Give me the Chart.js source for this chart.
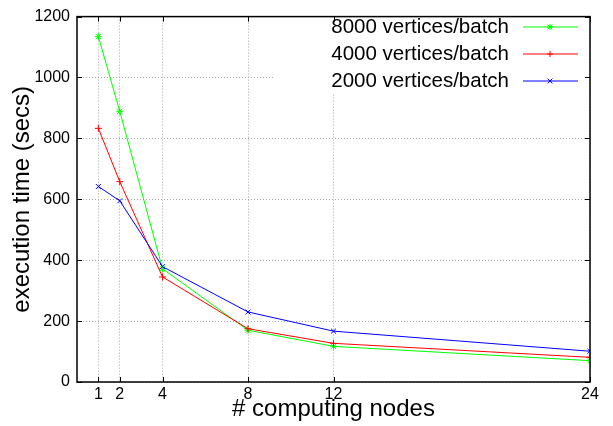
<!DOCTYPE html>
<html>
<head>
<meta charset="utf-8">
<script src="https://cdn.jsdelivr.net/npm/chart.js@4.4.1/dist/chart.umd.min.js"></script>
<style>
html, body { margin: 0; padding: 0; background: #fff; }
</style>
</head>
<body>
<canvas id="myChart" width="613" height="426"></canvas>
<script>
// values
var nodes = [1, 2, 4, 8, 12, 24];
var batch8000 = [1134, 889, 372, 170, 117, 70];
var batch4000 = [833, 658, 345, 175, 127, 81];
var batch2000 = [642, 595, 379, 230, 167, 101];
var xTicks = [1, 2, 4, 8, 12, 24];
var yTicks = [0, 200, 400, 600, 800, 1000, 1200];
var names = ['8000 vertices/batch', '4000 vertices/batch', '2000 vertices/batch'];
var colors = ['#00ff00', '#ff0000', '#0000ff'];
var styles = ['star', 'cross', 'crossRot'];

var FONT = '"Liberation Sans", Arial, Helvetica, sans-serif';

function pairs(values) {
    return nodes.map(function (n, i) { return { x: n, y: values[i] }; });
}

function marker(ctx, style, x, y, r) {
    ctx.beginPath();
    if (style == 'cross' || style == 'star') {
        ctx.moveTo(x - r, y); ctx.lineTo(x + r, y);
        ctx.moveTo(x, y - r); ctx.lineTo(x, y + r);
    }
    if (style == 'crossRot' || style == 'star') {
        var d = r * 0.8;
        ctx.moveTo(x - d, y - d); ctx.lineTo(x + d, y + d);
        ctx.moveTo(x - d, y + d); ctx.lineTo(x + d, y - d);
    }
    ctx.stroke();
}

// gnuplot-ish frame, inward ticks and key box
var gnuFrame = {
    id: 'gnuFrame',
    beforeDatasetsDraw: function (chart) {
        var ctx = chart.ctx, a = chart.chartArea;
        ctx.save();
        ctx.fillStyle = '#fff';
        ctx.fillRect(273, a.top + 1, a.right - 273 - 1, 93 - a.top);
        ctx.font = '20.5px ' + FONT;
        ctx.textAlign = 'right';
        ctx.textBaseline = 'middle';
        for (var i = 0; i < names.length; i++) {
            var y = 27 + i * 27;
            ctx.fillStyle = '#000';
            ctx.fillText(names[i], 509, y);
            ctx.strokeStyle = colors[i];
            ctx.lineWidth = 1;
            ctx.beginPath();
            ctx.moveTo(523, y);
            ctx.lineTo(578, y);
            ctx.stroke();
            marker(ctx, styles[i], 550, y, 3);
        }
        ctx.restore();
    },
    afterDraw: function (chart) {
        var ctx = chart.ctx, a = chart.chartArea;
        var xs = chart.scales.x, ys = chart.scales.y;
        ctx.save();
        ctx.strokeStyle = '#000';
        ctx.lineWidth = 1;
        ctx.beginPath();
        xTicks.forEach(function (v) {
            var px = Math.round(xs.getPixelForValue(v)) + 0.5;
            ctx.moveTo(px, a.bottom); ctx.lineTo(px, a.bottom - 5);
            ctx.moveTo(px, a.top); ctx.lineTo(px, a.top + 5);
        });
        yTicks.forEach(function (v) {
            var py = Math.round(ys.getPixelForValue(v)) + 0.5;
            ctx.moveTo(a.left, py); ctx.lineTo(a.left + 5, py);
            ctx.moveTo(a.right, py); ctx.lineTo(a.right - 5, py);
        });
        ctx.stroke();
        ctx.lineWidth = 1.5;
        ctx.strokeRect(a.left, a.top, a.right - a.left, a.bottom - a.top);
        ctx.restore();
    }
};

var ctx = document.getElementById('myChart').getContext('2d');
var myChart = new Chart(ctx, {
    type: 'line',
    data: {
        datasets: [0, 1, 2].map(function (i) {
            return {
                label: names[i],
                data: pairs([batch8000, batch4000, batch2000][i]),
                borderColor: colors[i],
                backgroundColor: colors[i],
                borderWidth: 1,
                pointStyle: styles[i],
                pointRadius: 3.5,
                pointBorderWidth: 1,
                tension: 0,
                fill: false,
                order: 3 - i
            };
        })
    },
    options: {
        responsive: false,
        animation: false,
        devicePixelRatio: 1,
        layout: { padding: { top: 12, right: 23, left: 0, bottom: 0 } },
        plugins: {
            legend: { display: false },
            tooltip: { enabled: false }
        },
        scales: {
            x: {
                type: 'linear',
                min: 0,
                max: 24,
                afterBuildTicks: function (scale) {
                    scale.ticks = xTicks.map(function (v) { return { value: v }; });
                },
                afterFit: function (scale) { scale.height = 44; },
                ticks: {
                    color: '#000', padding: 3, maxRotation: 0, autoSkip: false,
                    font: { family: FONT, size: 16 },
                    callback: function (v) { return String(v); }
                },
                grid: { color: '#a8a8a8', lineWidth: 1, drawTicks: false },
                border: { display: false, dash: [1, 2] },
                title: { display: true, text: '# computing nodes', color: '#000', padding: { top: 0, bottom: 2 }, font: { family: FONT, size: 24 } }
            },
            y: {
                min: 0,
                max: 1200,
                afterBuildTicks: function (scale) {
                    scale.ticks = yTicks.map(function (v) { return { value: v }; });
                },
                afterFit: function (scale) { scale.width = 77; },
                ticks: {
                    color: '#000', padding: 7,
                    font: { family: FONT, size: 16 },
                    callback: function (v) { return String(v); }
                },
                grid: { color: '#a8a8a8', lineWidth: 1, drawTicks: false },
                border: { display: false, dash: [1, 2] },
                title: { display: true, text: 'execution time (secs)', color: '#000', padding: { top: 8, bottom: 0 }, font: { family: FONT, size: 24 } }
            }
        }
    },
    plugins: [gnuFrame]
});
</script>
</body>
</html>
